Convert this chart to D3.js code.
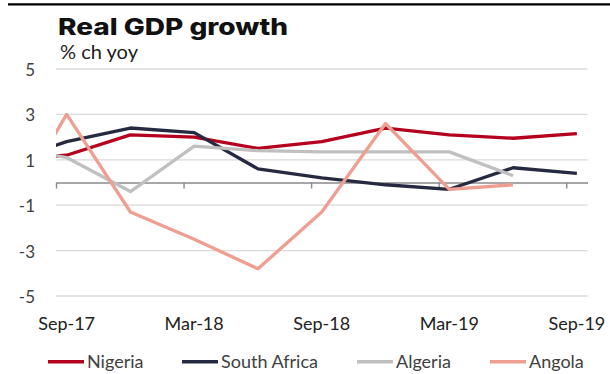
<!DOCTYPE html>
<html>
<head>
<meta charset="utf-8">
<script src="https://cdn.jsdelivr.net/npm/d3@7"></script>
<style>
  html, body { margin: 0; padding: 0; background: #fff; }
  svg { display: block; }
  text { font-family: Lato, "Noto Sans", sans-serif; fill: #333; }
</style>
</head>
<body>
<svg id="chart" width="610" height="374"></svg>
<script>
// Quarterly observations (month the quarter ends); first one sits just left of the axis start
const quarters = ["2017-06", "2017-09", "2017-12", "2018-03", "2018-06", "2018-09",
                  "2018-12", "2019-03", "2019-06", "2019-09"];
const nigeria     = [1.0, 1.2, 2.1, 2.0, 1.5, 1.8, 2.4, 2.1, 1.95, 2.15];
const southAfrica = [0.85, 1.8, 2.4, 2.2, 0.6, 0.2, -0.1, -0.3, 0.65, 0.4];
const algeria     = [1.6, 1.1, -0.4, 1.6, 1.4, 1.35, 1.35, 1.35, 0.3, null];
const angola      = [-1.8, 3.0, -1.3, -2.5, -3.8, -1.3, 2.6, -0.3, -0.1, null];

const seriesNames  = ["Nigeria", "South Africa", "Algeria", "Angola"];
const seriesColors = ["#b5001f", "#262a40", "#c0c0c0", "#ef9e92"];
const seriesValues = [nigeria, southAfrica, algeria, angola];

const yTicks = [5, 3, 1, -1, -3, -5];
const xTickLabels = ["Sep-17", "Mar-18", "Sep-18", "Mar-19", "Sep-19"];

const svg = d3.select("#chart");

// Month index counted from the first month on the axis (Sep 2017)
const startYear = 2017, startMonth = 9;
const monthIndex = s => {
  const [yy, mm] = s.split("-").map(Number);
  return (yy - startYear) * 12 + (mm - startMonth);
};
const labelMonth = s => {
  const names = {Jan:1,Feb:2,Mar:3,Apr:4,May:5,Jun:6,Jul:7,Aug:8,Sep:9,Oct:10,Nov:11,Dec:12};
  const [m, y] = s.split("-");
  return (2000 + +y - startYear) * 12 + (names[m] - startMonth);
};

const nMonths = 25;
const x = d3.scaleLinear().domain([0, nMonths]).range([56, 587.5]);
const y = d3.scaleLinear().domain([-5, 5]).range([296, 69]);

// top rule
svg.append("line")
  .attr("x1", 8).attr("x2", 610).attr("y1", 4.3).attr("y2", 4.3)
  .attr("stroke", "#000").attr("stroke-width", 2.2);

// title and unit
svg.append("text")
  .attr("x", 58).attr("y", 35)
  .attr("textLength", 230).attr("lengthAdjust", "spacingAndGlyphs")
  .style("font-family", "Inter, 'DejaVu Sans', sans-serif")
  .style("font-weight", 800).style("font-size", "23px").style("fill", "#111")
  .text("Real GDP growth");
svg.append("text")
  .attr("x", 60).attr("y", 59)
  .attr("textLength", 78).attr("lengthAdjust", "spacingAndGlyphs")
  .style("font-size", "19px").style("fill", "#222")
  .text("% ch yoy");

// gridlines
svg.append("g").selectAll("line")
  .data(yTicks.filter(v => v !== 0))
  .join("line")
  .attr("x1", x(0)).attr("x2", x(nMonths))
  .attr("y1", d => y(d)).attr("y2", d => y(d))
  .attr("stroke", "#dadada").attr("stroke-width", 1.3);

// y labels
svg.append("g").selectAll("text")
  .data(yTicks)
  .join("text")
  .attr("x", 35).attr("y", d => y(d) + 7)
  .attr("text-anchor", "end")
  .style("font-size", "17px").style("fill", "#404040")
  .text(d => d);

// zero axis with tick marks every six months
const xAxis = d3.axisBottom(x)
  .tickValues(d3.range(0, nMonths, 6))
  .tickSize(6).tickSizeOuter(0)
  .tickFormat("");
const gx = svg.append("g").attr("transform", `translate(0,${y(0)})`).call(xAxis);
gx.select(".domain").attr("stroke", "#8a8a8a").attr("stroke-width", 1.4);
gx.selectAll(".tick line").attr("stroke", "#8a8a8a").attr("stroke-width", 1.4);

// x labels centred on their month slot
svg.append("g").selectAll("text")
  .data(xTickLabels)
  .join("text")
  .attr("x", d => x(labelMonth(d) + 0.5)).attr("y", 330)
  .attr("text-anchor", "middle")
  .style("font-size", "18px").style("fill", "#222")
  .text(d => d);

// series lines, clipped to the plot area
svg.append("clipPath").attr("id", "plot-clip")
  .append("rect").attr("x", x(0)).attr("y", 0)
  .attr("width", x(nMonths) - x(0)).attr("height", 374);

const line = d3.line()
  .defined(d => d.v !== null)
  .x(d => x(monthIndex(d.q) + 0.5))
  .y(d => y(d.v));

const lines = svg.append("g").attr("clip-path", "url(#plot-clip)");
seriesValues.forEach((vals, i) => {
  const pts = quarters.map((q, j) => ({q, v: vals[j]}));
  lines.append("path")
    .datum(pts)
    .attr("fill", "none")
    .attr("stroke", seriesColors[i])
    .attr("stroke-width", 3.3)
    .attr("stroke-linejoin", "round")
    .attr("d", line);
});

// legend
const legendX = [48, 182, 357, 490];
const legend = svg.append("g");
seriesNames.forEach((name, i) => {
  legend.append("line")
    .attr("x1", legendX[i]).attr("x2", legendX[i] + 36)
    .attr("y1", 361.7).attr("y2", 361.7)
    .attr("stroke", seriesColors[i]).attr("stroke-width", 3.5);
  legend.append("text")
    .attr("x", legendX[i] + 39).attr("y", 368)
    .style("font-size", "18px").style("fill", "#404040")
    .text(name);
});
</script>
</body>
</html>
